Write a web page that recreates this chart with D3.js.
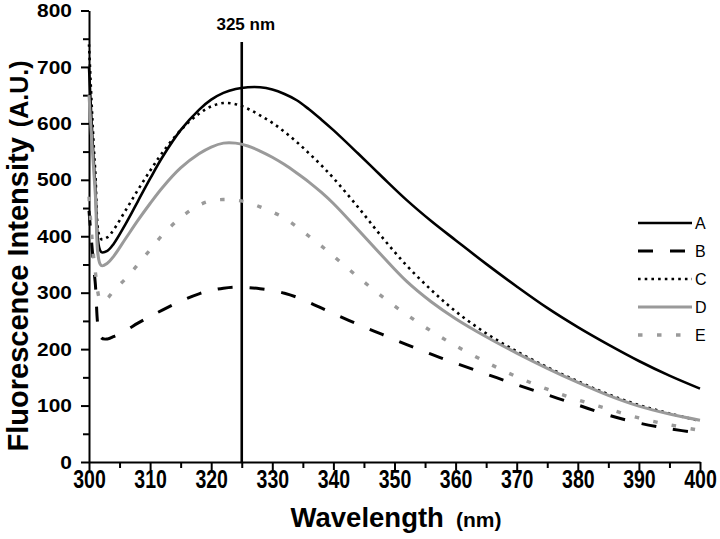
<!DOCTYPE html>
<html>
<head>
<meta charset="utf-8">
<script src="https://cdn.jsdelivr.net/npm/d3@7"></script>
<style>
  body { margin: 0; background: #fff; }
  svg { display: block; font-family: "Liberation Sans", Arial, sans-serif; }
</style>
</head>
<body>
<svg></svg>
<script>

let width = 720, height = 539;
let svg = d3.select("svg")
    .attr("width", width)
    .attr("height", height)

// wavelength grid (nm) shared by every trace
var wavelength = [300, 301, 302, 303, 304, 306, 308, 310, 312, 315, 318, 320, 322, 324, 326, 328, 330,
                  332, 334, 336, 338, 340, 344, 348, 352, 356, 360, 365, 370, 375, 380, 385, 390, 395, 400];

// fluorescence intensity
var seriesA = [700, 495, 372, 374, 386, 422, 462, 502, 540, 588, 624, 642, 654, 661, 664, 664, 660,
               652, 641, 625, 607, 588, 547, 505, 464, 427, 393, 351, 311, 273, 239, 208, 179, 153, 130];
var seriesB = [445, 320, 220, 218, 222, 233, 246, 258, 269, 285, 298, 304, 308, 310, 309, 307, 304,
               299, 292, 283, 273, 263, 244, 226, 208, 191, 175, 156, 137, 119, 101, 83, 69, 59, 51];
var seriesC = [740, 520, 395, 398, 411, 446, 482, 516, 548, 588, 617, 630, 636, 634, 626, 614, 601,
               585, 567, 547, 526, 503, 452, 398, 348, 305, 267, 228, 196, 168, 143, 120, 101, 86, 73];
var seriesD = [650, 480, 348, 352, 364, 396, 428, 458, 486, 521, 546, 558, 565, 565, 560, 551, 540,
               527, 512, 496, 478, 458, 412, 365, 320, 284, 254, 222, 193, 166, 141, 118, 99, 85, 74];
var seriesE = [470, 340, 285, 290, 303, 325, 350, 376, 402, 433, 455, 463, 465, 464, 460, 452, 443,
               432, 417, 400, 383, 365, 328, 293, 261, 232, 206, 177, 151, 129, 110, 94, 78, 66, 56];

var seriesNames = ["A", "B", "C", "D", "E"];
var xTicks = [300, 310, 320, 330, 340, 350, 360, 370, 380, 390, 400];
var yTicks = [0, 100, 200, 300, 400, 500, 600, 700, 800];
var markerWl = 325;

// line styles per series
var styles = {
  A: { color: "#000", width: 2.6, dash: null },
  B: { color: "#000", width: 3, dash: "15,17" },
  C: { color: "#000", width: 2.6, dash: "2.6,4.1" },
  D: { color: "#9a9a9a", width: 3, dash: null },
  E: { color: "#9a9a9a", width: 3.4, dash: "4.5,14.5" }
};

var x = d3.scaleLinear().domain([300, 400]).range([89, 700]);
var y = d3.scaleLinear().domain([0, 800]).range([462, 10.5]);

// Axes
var gx = svg.append("g").attr("transform", "translate(0," + y(0) + ")");
gx.call(d3.axisBottom(x).tickValues(xTicks).tickSize(8).tickSizeOuter(0).tickPadding(0))
gx.append("g").call(d3.axisBottom(x).tickValues(d3.range(305, 400, 10)).tickSize(6).tickFormat(""))
  .select(".domain").remove();
gx.selectAll("line, path").attr("stroke", "#000").attr("stroke-width", 2);
gx.selectAll("text")
    .attr("fill", "#000")
    .style("font-family", "'Liberation Sans', Arial, sans-serif")
    .style("font-size", "25px")
    .style("font-weight", "bold")
    .attr("transform", "scale(0.78,1)")

var gy = svg.append("g").attr("transform", "translate(" + x(300) + ",0)");
gy.call(d3.axisLeft(y).tickValues(yTicks).tickSize(8).tickSizeOuter(0).tickPadding(7.5))
gy.append("g").call(d3.axisLeft(y).tickValues(d3.range(50, 800, 100)).tickSize(6).tickFormat(""))
  .select(".domain").remove();
gy.selectAll("line, path").attr("stroke", "#000").attr("stroke-width", 2);
gy.selectAll("text")
    .attr("fill", "#000")
    .style("font-family", "'Liberation Sans', Arial, sans-serif")
    .style("font-size", "19px")
    .style("font-weight", "bold")
    .attr("transform", "scale(1.1,1)")

// 325 nm marker
svg.append("line")
    .attr("x1", x(markerWl)).attr("x2", x(markerWl))
    .attr("y1", y(744)).attr("y2", y(0))
    .attr("stroke", "#000")
    .attr("stroke-width", 2.6)
svg.append("text")
    .attr("x", x(markerWl) + 4)
    .attr("y", 30)
    .attr("text-anchor", "middle")
    .style("font-size", "17px")
    .style("font-weight", "bold")
    .text(markerWl + " nm")

// Curves
var allSeries = [seriesA, seriesB, seriesC, seriesD, seriesE];
var line = d3.line()
    .x(d => x(d[0]))
    .y(d => y(d[1]))
    .curve(d3.curveCatmullRom.alpha(0.5));

seriesNames.forEach(function(name, i) {
  var st = styles[name];
  svg.append("path")
      .datum(d3.zip(wavelength, allSeries[i]))
      .attr("d", line)
      .attr("fill", "none")
      .attr("stroke", st.color)
      .attr("stroke-width", st.width)
      .attr("stroke-dasharray", st.dash)
});

// Legend
seriesNames.forEach(function(name, i) {
  var st = styles[name];
  var ly = 223 + i * 28;
  svg.append("line")
      .attr("x1", 638).attr("x2", 692)
      .attr("y1", ly).attr("y2", ly)
      .attr("stroke", st.color)
      .attr("stroke-width", st.width)
      .attr("stroke-dasharray", st.dash)
  svg.append("text")
      .attr("x", 695)
      .attr("y", ly)
      .attr("dominant-baseline", "central")
      .style("font-size", "16px")
      .text(name)
});

// Axis titles
var xt = svg.append("text")
    .attr("x", 396)
    .attr("y", 527)
    .attr("text-anchor", "middle")
    .style("font-weight", "bold")
xt.append("tspan").style("font-size", "27.5px").text("Wavelength")
xt.append("tspan").style("font-size", "21px").attr("dx", 12).text("(nm)")

var yt = svg.append("text")
    .attr("transform", "translate(28,256) rotate(-90)")
    .attr("text-anchor", "middle")
    .style("font-weight", "bold")
yt.append("tspan").style("font-size", "29px").text("Fluorescence Intensity")
yt.append("tspan").style("font-size", "25px").attr("dx", 10).text("(A.U.)")

</script>
</body>
</html>
